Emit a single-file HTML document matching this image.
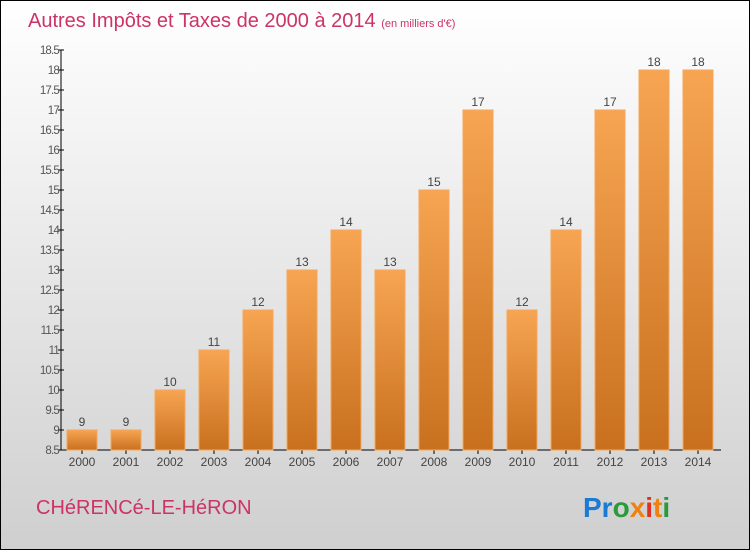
<!DOCTYPE html>
<html><head><meta charset="utf-8"><style>
body{margin:0;width:750px;height:550px;overflow:hidden}
svg{display:block;font-family:"Liberation Sans",sans-serif}
</style></head><body>
<svg id="c" width="750" height="550" xmlns="http://www.w3.org/2000/svg">
<defs>
<linearGradient id="bg" x1="0" y1="0" x2="0" y2="1"><stop offset="0" stop-color="#ffffff"/><stop offset="1" stop-color="#cfcfcf"/></linearGradient>
<linearGradient id="bar" x1="0" y1="0" x2="0" y2="1"><stop offset="0" stop-color="#f7a552"/><stop offset="1" stop-color="#c8701e"/></linearGradient>
</defs>
<rect x="0.5" y="0.5" width="749" height="549" fill="url(#bg)" stroke="#000"/>
<text x="28" y="27" font-size="20" fill="#cc3366">Autres Impôts et Taxes de 2000 à 2014 <tspan font-size="11">(en milliers d'€)</tspan></text>
<g id="yaxis"></g>
<g id="xaxis"></g>
<g id="bars"></g>
<text x="36" y="514" font-size="20" fill="#cc3366">CHéRENCé-LE-HéRON</text>
<g font-size="28" font-weight="bold">
<text x="583" y="517"><tspan fill="#1a7ad4">Pr</tspan><tspan fill="#2a9a3a">o</tspan><tspan fill="#f08010">x</tspan><tspan fill="#e03020">i</tspan><tspan fill="#f08010">t</tspan><tspan fill="#2a9a3a">i</tspan></text>
</g>
</svg>
<script>
const years=["2000","2001","2002","2003","2004","2005","2006","2007","2008","2009","2010","2011","2012","2013","2014"];
const values=[9,9,10,11,12,13,14,13,15,17,12,14,17,18,18];
const yTicks=[8.5,9,9.5,10,10.5,11,11.5,12,12.5,13,13.5,14,14.5,15,15.5,16,16.5,17,17.5,18,18.5];
const NS="http://www.w3.org/2000/svg";
const y0=450,yMin=8.5,yMax=18.5,yTop=50;
const yS=v=>y0-(v-yMin)/(yMax-yMin)*(y0-yTop);
const xL=61,step=44,bw=30;
const xC=i=>82+i*step;
function mk(t,a,p){const e=document.createElementNS(NS,t);for(const k in a)e.setAttribute(k,a[k]);p.appendChild(e);return e;}
const ya=document.getElementById('yaxis'),xa=document.getElementById('xaxis'),bs=document.getElementById('bars');
mk('line',{x1:xL,y1:yTop,x2:xL,y2:y0,stroke:'#000'},ya);
mk('line',{x1:xL,y1:y0,x2:721,y2:y0,stroke:'#000'},xa);
yTicks.forEach(v=>{const y=yS(v);
 mk('line',{x1:xL-3,y1:y,x2:xL+3,y2:y,stroke:'#000'},ya);
 const t=mk('text',{x:xL-2,y:y+4,'text-anchor':'end','font-size':11.5,fill:'#555','letter-spacing':'-0.8'},ya);t.textContent=v;
 
 
});
years.forEach((yr,i)=>{const c=xC(i),v=values[i],y=yS(v);
 mk('line',{x1:c,y1:y0,x2:c,y2:y0+4,stroke:'#000'},xa);
 const t=mk('text',{x:c,y:y0+16,'text-anchor':'middle','font-size':12,fill:'#444'},xa);t.textContent=yr;
 
 
 const r=mk('rect',{x:c-bw/2,y:y,width:bw,height:y0-y,fill:'url(#bar)',stroke:'#f5a75a','stroke-width':1},bs);
 
 
 const l=mk('text',{x:c,y:y-4,'text-anchor':'middle','font-size':12,fill:'#444'},bs);l.textContent=v;
 
 
});
</script>
</body></html>
